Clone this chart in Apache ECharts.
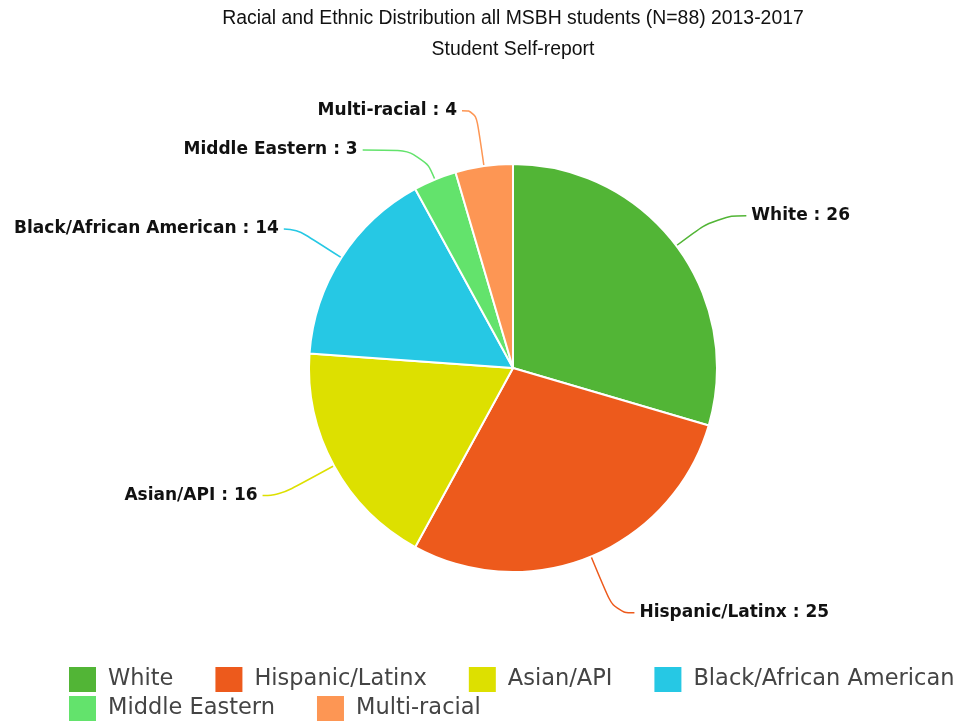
<!DOCTYPE html>
<html><head><meta charset="utf-8">
<script src="https://cdn.jsdelivr.net/npm/echarts@6/dist/echarts.min.js"></script>
<style>html,body{margin:0;padding:0;background:#fff}#c{width:959px;height:721px}</style>
</head><body><div id="c"></div>
<script>
const categories = ['White', 'Hispanic/Latinx', 'Asian/API', 'Black/African American', 'Middle Eastern', 'Multi-racial'];
const values = [26, 25, 16, 14, 3, 4];
const colors = ['#52b536', '#ed5a1c', '#dde000', '#26c8e4', '#63e36c', '#fd9654'];
const titleText = 'Racial and Ethnic Distribution all MSBH students (N=88) 2013-2017';
const subtitleText = 'Student Self-report';
// leader line lengths per slice [length, length2]
const lineLens = [[50, 30], [61, 20], [62, 17], [53, 13], [32, 60], [56, 14]];

const chart = echarts.init(document.getElementById('c'));
const legendText = {fontFamily: 'DejaVu Sans', fontSize: 22.5, color: '#444', padding: [0, 0, 0, 6]};
chart.setOption({
  animation: false,
  color: colors,
  title: {
    text: titleText + '\n' + subtitleText,
    left: 513, top: 3, padding: 0, textAlign: 'center',
    textStyle: {fontFamily: 'Liberation Sans', fontSize: 19.4, fontWeight: 'normal', color: '#111', lineHeight: 31}
  },
  legend: [
    {data: categories.slice(0, 4), left: 67, top: 665, padding: 0, itemWidth: 29, itemHeight: 27, itemGap: 40, icon: 'rect', textStyle: legendText, selectedMode: false},
    {data: categories.slice(4), left: 67, top: 694, padding: 0, itemWidth: 29, itemHeight: 27, itemGap: 40, icon: 'rect', textStyle: legendText, selectedMode: false}
  ],
  series: [{
    type: 'pie',
    center: [513, 368],
    radius: 204,
    startAngle: 90,
    clockwise: true,
    avoidLabelOverlap: false,
    data: categories.map((n, i) => ({name: n, value: values[i], labelLine: {length: lineLens[i][0], length2: lineLens[i][1]}})),
    itemStyle: {borderColor: '#fff', borderWidth: 2},
    label: {
      formatter: '{b} : {c}',
      fontFamily: 'DejaVu Sans', fontSize: 17, fontWeight: 'bold', color: '#111'
    },
    labelLine: {show: true, smooth: 0.5, lineStyle: {width: 1.5}},
    emphasis: {disabled: true}
  }]
});
</script></body></html>
